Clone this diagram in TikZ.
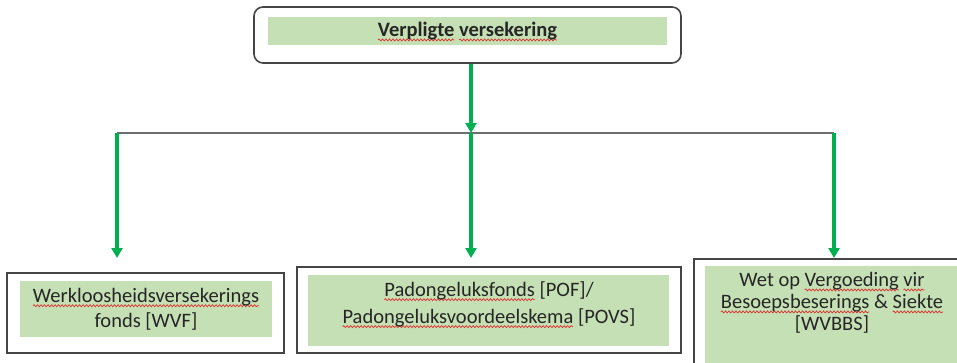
\documentclass[tikz,border=0pt]{standalone}
\usepackage{fontspec}
\setmainfont{Carlito}
\usetikzlibrary{arrows.meta,decorations.pathmorphing}
\definecolor{boxgreen}{HTML}{C5E0B4}
\definecolor{arrgreen}{HTML}{00B050}
\definecolor{linegray}{HTML}{6E6E6E}
\definecolor{bordergray}{HTML}{454545}
\definecolor{spell}{HTML}{E03030}
\newsavebox\wordbox
\newlength\wordwd
\newcommand\rw[1]{\sbox\wordbox{#1}\setlength\wordwd{\wd\wordbox}\leavevmode\rlap{\tikz[baseline=0pt,x=1pt,y=1pt]{\useasboundingbox (0,0) rectangle (1,1); \draw[spell, line width=0.7pt, decorate, decoration={snake, amplitude=1pt, segment length=3.5pt}] (0,-3.5) -- (\the\wordwd,-3.5);}}\usebox\wordbox}
\tikzset{
  outerbox/.style={draw=bordergray, line width=1.6pt, fill=white, inner sep=0pt},
  greenbox/.style={fill=boxgreen, inner sep=0pt, align=center, text=black!85,
    font=\fontsize{20.5}{25}\selectfont},
  grarrow/.style={draw=arrgreen, line width=3.2pt, -{Triangle[width=11pt,length=10pt]}},
  grayline/.style={draw=linegray, line width=1.5pt},
}
\begin{document}
\begin{tikzpicture}[x=1pt,y=-1pt]
\useasboundingbox (0,0) rectangle (957,363);
\clip (0,0) rectangle (957,363);
% top
\node[outerbox, rounded corners=9pt, minimum width=427pt, minimum height=56pt] (top) at (467.5,35) {};
\node[greenbox, minimum width=399pt, minimum height=28pt] (topg) at (467.5,31) {\textbf{\rw{Verpligte} \rw{versekering}}};
% left
\node[outerbox, minimum width=277pt, minimum height=80pt] (left) at (145.5,313) {};
\node[greenbox, minimum width=252pt, minimum height=56pt] (leftg) at (146,309) {\rw{Werkloosheidsversekerings}\\fonds [WVF]};
% middle
\node[outerbox, minimum width=384pt, minimum height=86pt] (mid) at (489,310) {};
\node[greenbox, minimum width=361pt, minimum height=71pt] (midg) at (488.5,310.5) {};
\node[greenbox, fill=none, font=\fontsize{20.5}{27}\selectfont] (midt) at (489,304) {\rw{Padongeluksfonds} [POF]/\\\rw{Padongeluksvoordeelskema} [POVS]};
% right
\node[outerbox, minimum width=290pt, minimum height=130pt, anchor=north west] (right) at (693,258) {};
\node[greenbox, minimum width=270pt, minimum height=120pt, anchor=north west] (rightg) at (705,266) {};
\node[greenbox, fill=none, font=\fontsize{20.5}{22}\selectfont, anchor=north] (rightt) at (832,272) {Wet op \rw{Vergoeding} \rw{vir}\\\rw{Besoepsbeserings} \& \rw{Siekte}\\{}[WVBBS]};
% connectors
\coordinate (j) at (471,133);
\coordinate (hl) at (117,133);
\coordinate (hr) at (834,133);
\coordinate (t1) at (117,258);
\coordinate (t2) at (471,258);
\coordinate (t3) at (834,258);
\draw[grayline] (hl) -- (hr);
\draw[grarrow] (top.south -| j) -- (j);
\draw[grarrow] (hl) -- (t1);
\draw[grarrow] (j) -- (t2);
\draw[grarrow] (hr) -- (t3);
\end{tikzpicture}
\end{document}
